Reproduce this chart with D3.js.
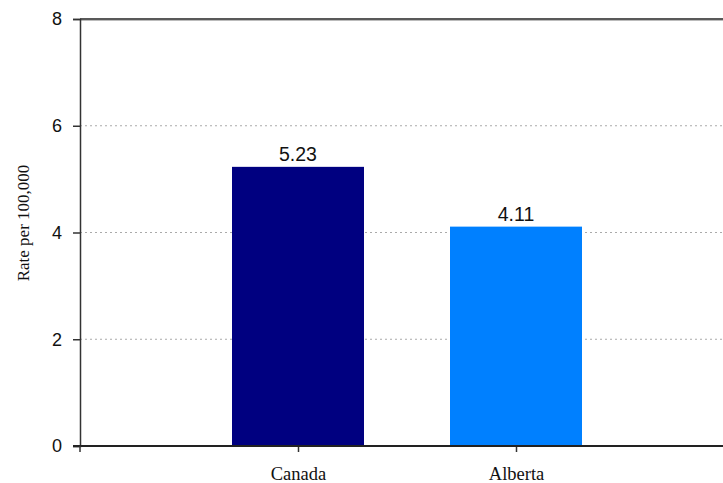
<!DOCTYPE html>
<html><head><meta charset="utf-8">
<script src="https://cdn.jsdelivr.net/npm/d3@7"></script>
<style>body{margin:0;background:#fff}svg{display:block}</style>
</head><body>
<script>
const categories = ["Canada", "Alberta"];
const values = [5.23, 4.11];
const colors = ["#000080", "#0080FF"];
const yTicks = [0, 2, 4, 6, 8];
const yLabel = "Rate per 100,000";

const W = 723, H = 483;
const L = 80, R = 723, T = 19, B = 446;
const svg = d3.select("body").append("svg").attr("width", W).attr("height", H);
svg.append("rect").attr("width", W).attr("height", H).attr("fill", "#fff");

const y = d3.scaleLinear().domain([0, 8]).range([B, T]);
const step = 218;
const x = d3.scalePoint().domain(categories).range([L + step, L + 2 * step]);
const barW = 132;

// gridlines
svg.append("g").selectAll("line").data(yTicks.filter(d => d > 0 && d < 8)).join("line")
  .attr("x1", L).attr("x2", R).attr("y1", d => y(d)).attr("y2", d => y(d))
  .attr("stroke", "#aaa").attr("stroke-width", 1).attr("stroke-dasharray", "2,3");

// top frame line
svg.append("line").attr("x1", L).attr("x2", R).attr("y1", T + 1.5).attr("y2", T + 1.5)
  .attr("stroke", "#bbb").attr("stroke-width", 1);
svg.append("line").attr("x1", L).attr("x2", R).attr("y1", T).attr("y2", T)
  .attr("stroke", "#222").attr("stroke-width", 1.5);

// bars
svg.append("g").selectAll("rect").data(values).join("rect")
  .attr("x", (d, i) => x(categories[i]) - barW / 2)
  .attr("width", barW)
  .attr("y", d => y(d))
  .attr("height", d => B - y(d))
  .attr("fill", (d, i) => colors[i]);

// value labels
svg.append("g").selectAll("text").data(values).join("text")
  .attr("x", (d, i) => x(categories[i]))
  .attr("y", d => y(d) - 5.5)
  .attr("text-anchor", "middle")
  .attr("font-family", "Liberation Sans, Arial, sans-serif")
  .attr("font-size", 19.5).attr("fill", "#111")
  .text(d => d.toFixed(2));

// y axis
const yAxis = d3.axisLeft(y).tickValues(yTicks).tickSize(7).tickPadding(11).tickFormat(d3.format("d"));
const gy = svg.append("g").attr("transform", `translate(${L},0)`).call(yAxis);
gy.select(".domain").attr("stroke", "#333").attr("stroke-width", 1.5);
gy.selectAll(".tick line").attr("stroke", "#333").attr("stroke-width", 1.5);
gy.selectAll(".tick text").attr("font-family", "Liberation Sans, Arial, sans-serif")
  .attr("font-size", 18).attr("fill", "#111");

// x axis
const xAxis = d3.axisBottom(x).tickSize(6).tickPadding(0).tickFormat(d => d);
const gx = svg.append("g").attr("transform", `translate(0,${B})`).call(xAxis);
gx.select(".domain").remove();
gx.append("line").attr("x1", L - 7).attr("x2", R).attr("y1", 0).attr("y2", 0)
  .attr("stroke", "#222").attr("stroke-width", 2);
gx.append("line").attr("x1", L).attr("x2", L).attr("y1", 0).attr("y2", 6)
  .attr("stroke", "#333").attr("stroke-width", 1.5);
gx.selectAll(".tick line").attr("stroke", "#333").attr("stroke-width", 1.5);
gx.selectAll(".tick text").attr("font-family", "Liberation Serif, Times New Roman, serif")
  .attr("font-size", 18.5).attr("fill", "#111")
  .attr("dy", null).attr("y", 34);

// y label
svg.append("text")
  .attr("transform", `translate(29,223) rotate(-90)`)
  .attr("text-anchor", "middle")
  .attr("font-family", "Liberation Serif, Times New Roman, serif")
  .attr("font-size", 17).attr("fill", "#111")
  .text(yLabel);
</script>
</body></html>
